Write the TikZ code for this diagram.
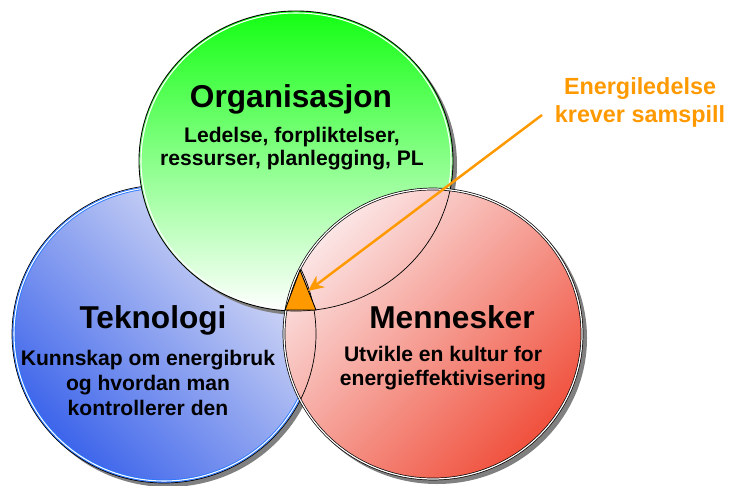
\documentclass[tikz,border=0pt]{standalone}
\usepackage{fontspec}
\setmainfont{Liberation Sans}
\usetikzlibrary{arrows.meta}

\definecolor{orgtop}{RGB}{20,255,20}
\definecolor{orgmid}{RGB}{150,252,150}
\definecolor{tekdark}{RGB}{60,100,235}
\definecolor{teklight}{RGB}{228,230,246}
\definecolor{tekring}{RGB}{40,120,255}
\definecolor{mendark}{RGB}{240,80,60}
\definecolor{menlight}{RGB}{251,230,230}
\definecolor{signal}{RGB}{255,153,0}

\tikzset{
  shadowfill/.style={fill=black!50},
  title/.style={font=\bfseries\fontsize{18}{21}\selectfont, anchor=base},
  sub/.style={font=\bfseries\fontsize{12}{13.5}\selectfont, align=center, anchor=base},
  callout/.style={font=\bfseries\fontsize{13.3}{16}\selectfont, align=center, anchor=base, text=signal},
  pointer/.style={draw=signal, line width=1.4pt, -{Stealth[length=9pt,width=8pt]}},
}

\begin{document}
\begin{tikzpicture}[x=0.02cm, y=-0.02cm]
	\useasboundingbox (0,0) rectangle (729,486);
	% left circle
	\fill[shadowfill] (168,338) ellipse [x radius=152, y radius=149];
	\shade[top color=teklight, bottom color=tekdark, shading angle=-45]
		(164,334) ellipse [x radius=152, y radius=149];
	\draw[black, line width=0.4pt] (164,334) ellipse [x radius=152, y radius=149];
	\draw[tekring, double=white, line width=0.5pt, double distance=0.6pt]
		(164,334) ellipse [x radius=150, y radius=147];
	% top circle
	\fill[shadowfill] (300,165) ellipse [x radius=157, y radius=150];
	\shade[top color=orgtop, middle color=orgmid, bottom color=white]
		(296,161) ellipse [x radius=157, y radius=150];
	\draw[black, line width=0.5pt] (296,161) ellipse [x radius=157, y radius=150];
	\draw[white, line width=0.6pt] (296,161) ellipse [x radius=155, y radius=148];
	% right circle
	\fill[shadowfill] (437,338) ellipse [x radius=150, y radius=146];
	\shade[top color=menlight, bottom color=mendark, shading angle=45]
		(433,334) ellipse [x radius=150, y radius=146];
	\draw[black, double=white, line width=0.4pt, double distance=0.7pt]
		(433,334) ellipse [x radius=149, y radius=145];
	% edges seen through the right circle
	\begin{scope}
		\clip (433,334) ellipse [x radius=148, y radius=144];
		\draw[line width=0.4pt] (164,334) ellipse [x radius=152, y radius=149];
		\draw[line width=0.4pt] (296,161) ellipse [x radius=157, y radius=150];
	\end{scope}
	% middle
	\draw[fill=signal, line width=0.5pt] (300,270) -- (316,310) -- (285,310) -- cycle;
	\coordinate (tri) at (308,291);
	% texts (base = last line)
	\node[title] (org) at (291,108) {Organisasjon};
	\node[sub] (orgtxt) at (292,166) {Ledelse, forpliktelser,\\ressurser, planlegging, PL};
	\node[title] (tek) at (153,328) {Teknologi};
	\node[sub, font=\bfseries\fontsize{12}{14.2}\selectfont] (tektxt) at (148,415) {Kunnskap om energibruk\\og hvordan man\\kontrollerer den};
	\node[title] (men) at (452,328) {Mennesker};
	\node[sub] (mentxt) at (443,385) {Utvikle en kultur for\\energieffektivisering};
	\node[callout] (samspill) at (640,123) {Energiledelse\\krever samspill};
	% arrow
	\coordinate (from) at (542,115);
	\draw[pointer] (from) -- (tri);
\end{tikzpicture}
\end{document}
